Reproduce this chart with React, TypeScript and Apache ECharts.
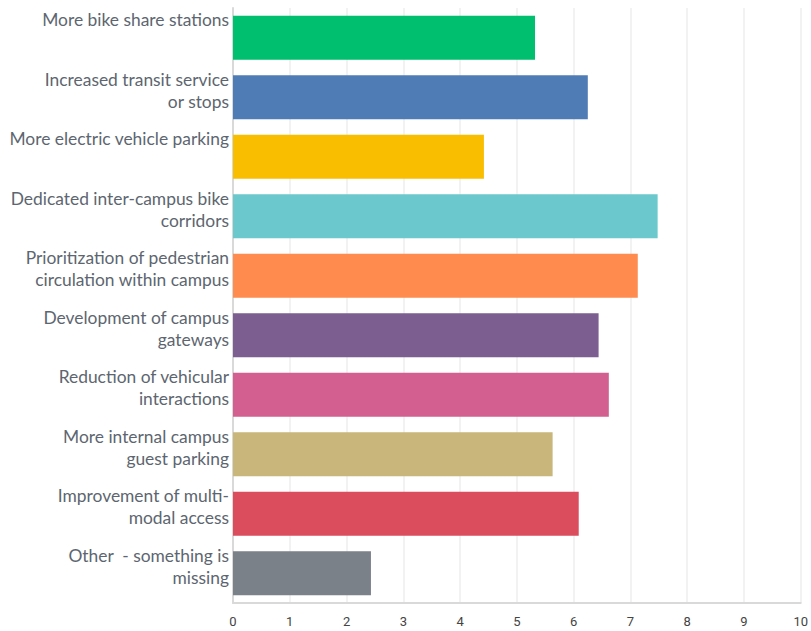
import React, { useEffect, useRef } from "react";
import * as echarts from "echarts";

const categories: string[] = [
  "More bike share stations",
  "Increased transit service\nor stops",
  "More electric vehicle parking",
  "Dedicated inter-campus bike\ncorridors",
  "Prioritization of pedestrian\ncirculation within campus",
  "Development of campus\ngateways",
  "Reduction of vehicular\ninteractions",
  "More internal campus\nguest parking",
  "Improvement of multi-\nmodal access",
  "Other  - something is\nmissing",
];

const values: number[] = [5.32, 6.25, 4.42, 7.48, 7.13, 6.44, 6.62, 5.63, 6.09, 2.43];

const colors: string[] = [
  "#00BF6F",
  "#507CB6",
  "#F9BE00",
  "#6BC8CD",
  "#FF8B4F",
  "#7D5E90",
  "#D25F90",
  "#C8B67A",
  "#DB4D5C",
  "#7B8189",
];

export default function App() {
  const ref = useRef<HTMLDivElement>(null);
  useEffect(() => {
    if (!ref.current) return;
    const chart = echarts.init(ref.current, null, { renderer: "svg" });
    chart.setOption({
      animation: false,
      grid: { left: 233, right: 10, top: 8, bottom: 28, containLabel: false },
      xAxis: {
        type: "value",
        min: 0,
        max: 10,
        interval: 1,
        axisLine: { show: true, lineStyle: { color: "#d9d9d9", width: 2 } },
        axisTick: { show: false },
        splitLine: { show: true, lineStyle: { color: "#eeeeee", width: 1.5 } },
        axisLabel: { color: "#444", fontSize: 13, fontFamily: "Roboto", margin: 12 },
      },
      yAxis: {
        type: "category",
        inverse: true,
        data: categories,
        axisLine: { show: true, lineStyle: { color: "#d9d9d9", width: 2 } },
        axisTick: { show: false },
        axisLabel: {
          interval: 0,
          hideOverlap: false,
          showMinLabel: true,
          showMaxLabel: true,
          margin: 4,
          color: "#5d6670",
          fontSize: 17.4,
          fontFamily: "Lato",
          lineHeight: 22,
          align: "right",
          formatter: (v: string) => {
            const lines = v.split("\n");
            while (lines.length < 3) lines.push(" ");
            return "{s| }\n" + lines.map((l) => "{t|" + l + "}").join("\n");
          },
          rich: {
            s: { fontSize: 6, lineHeight: 8 },
            t: { fontSize: 17.4, lineHeight: 22, fontFamily: "Lato", color: "#5d6670" },
          },
        },
      },
      series: [
        {
          type: "bar",
          data: values.map((v, i) => ({ value: v, itemStyle: { color: colors[i] } })),
          barCategoryGap: "26%",
        },
      ],
    });
    return () => chart.dispose();
  }, []);
  return <div ref={ref} style={{ width: 811, height: 631, position: "absolute", left: 0, top: 0 }} />;
}
